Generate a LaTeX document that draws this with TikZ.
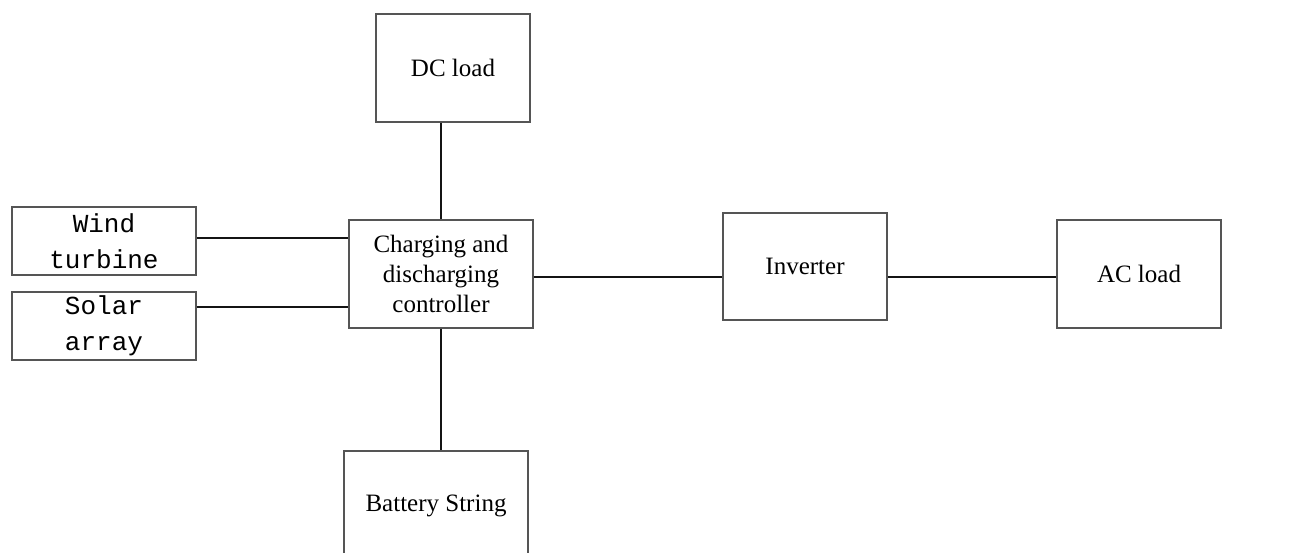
\documentclass[tikz,border=0pt]{standalone}
\usepackage{fontspec}
\setmainfont{Liberation Serif}
\setmonofont{Liberation Mono}
\usetikzlibrary{positioning}
\definecolor{boxline}{RGB}{85,85,85}
\definecolor{wire}{RGB}{20,20,20}
\tikzset{
  % Block with serif label
  block/.style={
    rectangle, draw=boxline, line width=1.2pt, fill=white,
    inner sep=0pt, align=center,
    font=\fontsize{25}{30}\selectfont
  },
  % Source block with typewriter label
  source/.style={
    block, minimum width=184pt, minimum height=68pt,
    font=\fontsize{26}{36}\selectfont\ttfamily
  },
  % Plain connection line
  link/.style={
    draw=wire, line width=1.2pt
  },
}
\begin{document}
\begin{tikzpicture}[x=1pt, y=-1pt]

\useasboundingbox (0,0) rectangle (1289,553);
\clip (0,0) rectangle (1289,553);

%% ── BLOCKS ───────────────────────────────────────────────────────────────

\node[block, minimum width=184pt, minimum height=108pt] (ctrl) at (441,274)
  {Charging and\\discharging\\controller};

\node[block, minimum width=154pt, minimum height=108pt] (dcload) at (453,68)
  {DC load};

\node[block, minimum width=184pt, minimum height=109pt] (battery) at (436,505.5)
  {Battery String};

\node[source] (wind)  at (104,241) {Wind\\turbine};
\node[source] (solar) at (104,326) {Solar\\array};

\node[block, minimum width=164pt, minimum height=107pt] (inverter) at (805,266.5)
  {Inverter};

\node[block, minimum width=164pt, minimum height=108pt] (acload) at (1139,274)
  {AC load};

%% ── CONNECTIONS ──────────────────────────────────────────────────────────

\draw[link] (dcload.south -| ctrl.north) -- (ctrl.north);
\draw[link] (ctrl.south) -- (ctrl.south |- battery.north);

\draw[link] ([yshift=3pt]wind.east)   -- ([yshift=3pt]wind.east -| ctrl.west);
\draw[link] ([yshift=19pt]solar.east) -- ([yshift=19pt]solar.east -| ctrl.west);

\draw[link] ([yshift=-3pt]ctrl.east) -- ([yshift=-3pt]ctrl.east -| inverter.west);
\draw[link] ([yshift=-3pt]ctrl.east -| inverter.east) -- ([yshift=-3pt]ctrl.east -| acload.west);

\end{tikzpicture}
\end{document}
